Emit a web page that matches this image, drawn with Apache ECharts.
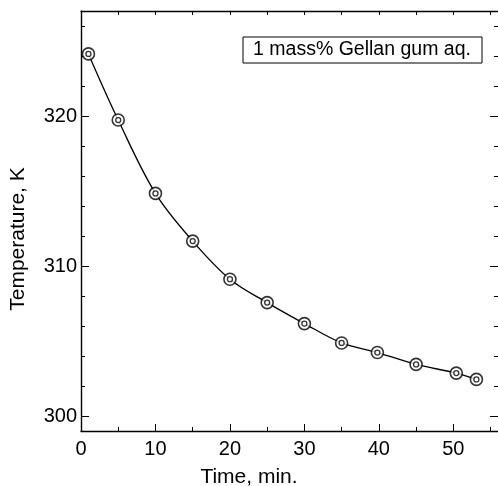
<!DOCTYPE html>
<html>
<head>
<meta charset="utf-8">
<script src="https://cdn.jsdelivr.net/npm/echarts@6/dist/echarts.min.js"></script>
<style>
  html, body { margin: 0; padding: 0; background: #fff; }
  #chart { width: 498px; height: 486px; }
</style>
</head>
<body>
<div id="chart"></div>
<script>
// cooling curve
var timeMin = [1, 5, 10, 15, 20, 25, 30, 35, 39.8, 45, 50.4, 53.1];
var tempK = [324.14, 319.73, 314.84, 311.66, 309.12, 307.56, 306.16, 304.87, 304.23, 303.44, 302.86, 302.44];

var xMajor = [0, 10, 20, 30, 40, 50];
var xMinor = [5, 15, 25, 35, 45, 55];
var yMajor = [300, 310, 320];
var yMinor = [302, 304, 306, 308, 312, 314, 316, 318, 322, 324, 326];

var legendText = '1 mass% Gellan gum aq.';

var font = 'Liberation Sans, Arial, sans-serif';
var ink = '#000';

var points = timeMin.map(function (t, i) { return [t, tempK[i]]; });

var chart = echarts.init(document.getElementById('chart'));

function xAx(pos, ticks, len, labels, line) {
    return {
        type: 'value', position: pos, min: 0, max: 56, gridIndex: 0,
        axisLine: {show: line, onZero: false, lineStyle: {color: ink, width: 1.4}},
        axisTick: {show: true, inside: true, length: len, customValues: ticks, lineStyle: {color: ink, width: 1}},
        axisLabel: labels ? {show: true, customValues: ticks, color: ink, fontSize: 20, fontFamily: font, margin: 8} : {show: false},
        splitLine: {show: false}
    };
}

function yAx(pos, ticks, len, labels, line) {
    return {
        type: 'value', position: pos, min: 299, max: 327, gridIndex: 0,
        axisLine: {show: line, onZero: false, lineStyle: {color: ink, width: 1.4}},
        axisTick: {show: true, inside: true, length: len, customValues: ticks, lineStyle: {color: ink, width: 1}},
        axisLabel: labels ? {show: true, customValues: ticks, color: ink, fontSize: 20, fontFamily: font, margin: 4} : {show: false},
        splitLine: {show: false}
    };
}

var option = {
    backgroundColor: '#fff',
    animation: false,
    grid: {left: 81, top: 11, width: 418, height: 420},
    xAxis: [
        xAx('bottom', xMajor, 7, true, true),
        xAx('bottom', xMinor, 4, false, false),
        xAx('top', xMajor.concat(xMinor), 4, false, true)
    ],
    yAxis: [
        yAx('left', yMajor, 8, true, true),
        yAx('left', yMinor, 4, false, false),
        yAx('right', yMajor, 8, false, false),
        yAx('right', yMinor, 4, false, false)
    ],
    graphic: [
        {
            type: 'text', left: 'center', top: 467,
            style: {text: 'Time, min.', fill: ink, font: '21px ' + font}
        },
        {
            type: 'text', x: 8, y: 239, rotation: Math.PI / 2,
            style: {text: 'Temperature, K', fill: ink, font: '21px ' + font, align: 'center', verticalAlign: 'top'}
        },
        {
            type: 'rect', shape: {x: 243, y: 37, width: 239, height: 26},
            style: {fill: '#fff', stroke: ink, lineWidth: 1}
        },
        {
            type: 'text', x: 362, y: 50,
            style: {text: legendText, fill: ink, font: '19.5px ' + font, align: 'center', verticalAlign: 'middle'}
        }
    ],
    series: [
        {
            type: 'line', data: points, smooth: 0.35, showSymbol: false,
            lineStyle: {color: ink, width: 1.3}, z: 2
        },
        {
            type: 'scatter', data: points, symbol: 'circle', symbolSize: 12,
            itemStyle: {color: '#fff', borderColor: ink, borderWidth: 1.6}, z: 3
        },
        {
            type: 'scatter', data: points, symbol: 'circle', symbolSize: 5,
            itemStyle: {color: '#fff', borderColor: ink, borderWidth: 1.3}, z: 4
        }
    ]
};

chart.setOption(option);
</script>
</body>
</html>
